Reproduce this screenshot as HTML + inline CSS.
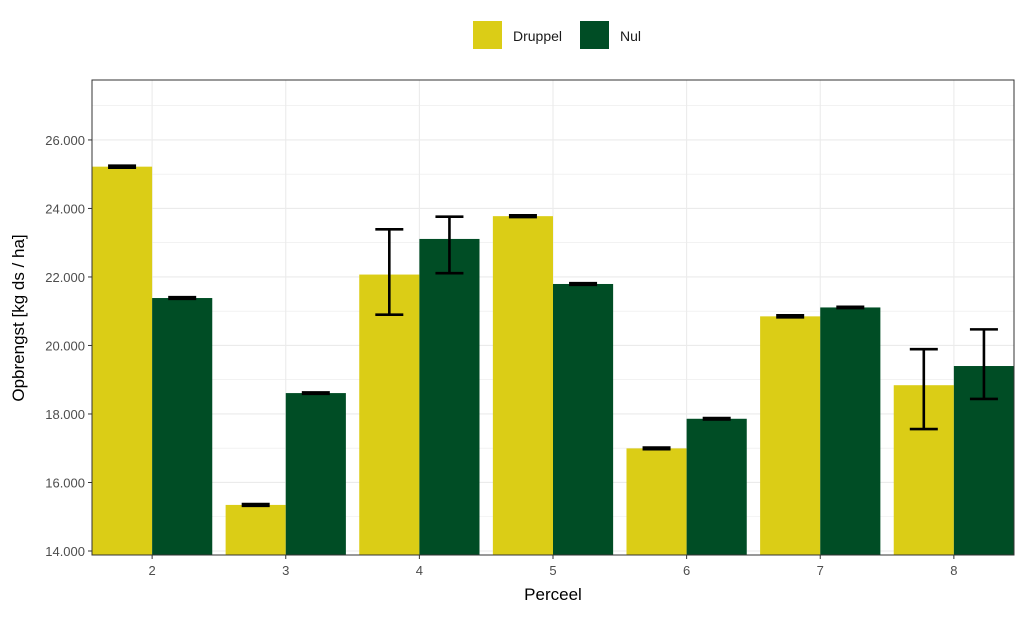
<!DOCTYPE html>
<html><head><meta charset="utf-8"><style>
body{margin:0;background:#fff;font-family:"Liberation Sans",Arial,sans-serif}
</style></head><body>
<svg id="chart" width="1024" height="614" xmlns="http://www.w3.org/2000/svg" font-family="Liberation Sans, Arial, sans-serif">
<g id="grid"></g><g id="bars"></g><g id="errs"></g><g id="axes"></g>
<g>
<rect x="473" y="21" width="29" height="28" fill="#dbcd16"/>
<text x="513" y="41" font-size="14" fill="#1a1a1a">Druppel</text>
<rect x="580" y="21" width="29" height="28" fill="#004d25"/>
<text x="620" y="41" font-size="14" fill="#1a1a1a">Nul</text>
</g>
<text x="553" y="600" font-size="17" text-anchor="middle" fill="#000">Perceel</text>
<text transform="translate(24,318) rotate(-90)" font-size="17" text-anchor="middle" fill="#000">Opbrengst [kg ds / ha]</text>
</svg>
<script>
const categories=["2","3","4","5","6","7","8"];
const druppel=[25220,15345,22070,23775,16995,20850,18840];
const nul=[21385,18610,23110,21795,17860,21110,19400];
const druppelLo=[25190,15320,20900,23750,16970,20820,17560];
const druppelHi=[25250,15370,23390,23800,17020,20880,19890];
const nulLo=[21360,18590,22110,21770,17840,21090,18440];
const nulHi=[21410,18630,23760,21820,17880,21130,20470];
const yTicks=[14000,16000,18000,20000,22000,24000,26000];
const yTickLabels=["14.000","16.000","18.000","20.000","22.000","24.000","26.000"];
const L=92,R=1014,T=80,B=555,yMin=13883,yMax=27750;
const NS="http://www.w3.org/2000/svg";
const y=v=>B-(v-yMin)/(yMax-yMin)*(B-T);
const step=(R-L)/(categories.length-1+0.9);
const x=i=>L+step*(i+0.45);
const bw=step*0.45;
function mk(p,tag,a){const e=document.createElementNS(NS,tag);for(const k in a)e.setAttribute(k,a[k]);document.getElementById(p).appendChild(e);return e;}
mk("grid","rect",{x:L,y:T,width:R-L,height:B-T,fill:"#fff"});
for(let v=13000;v<=27750;v+=1000){if(v<yMin)continue;const g=mk("grid","line",{x1:L,x2:R,y1:y(v),y2:y(v),stroke:"#ebebeb","stroke-width":v%2000===0?1.1:0.6});

}
categories.forEach((c,i)=>{const g=mk("grid","line",{x1:x(i),x2:x(i),y1:T,y2:B,stroke:"#ebebeb","stroke-width":1.1});

});
categories.forEach((c,i)=>{
 const b1=mk("bars","rect",{x:x(i)-bw,y:y(druppel[i]),width:bw,height:B-y(druppel[i]),fill:"#dbcd16"});
 
 
 const b2=mk("bars","rect",{x:x(i),y:y(nul[i]),width:bw,height:B-y(nul[i]),fill:"#004d25"});
 
 
 [[x(i)-bw/2,druppelLo[i],druppelHi[i],'druppel'],[x(i)+bw/2,nulLo[i],nulHi[i],'nul']].forEach(([cx,lo,hi,s])=>{
  const d=`M${cx-14},${y(hi)}H${cx+14}M${cx},${y(hi)}V${y(lo)}M${cx-14},${y(lo)}H${cx+14}`;
  const e=mk("errs","path",{d:d,stroke:"#000","stroke-width":2.6,fill:"none"});
  
  
 });
 const t=mk("axes","text",{x:x(i),y:575,"font-size":13,"text-anchor":"middle",fill:"#4d4d4d"});t.textContent=c;
 
 
 mk("axes","line",{x1:x(i),x2:x(i),y1:B,y2:B+4,stroke:"#333"});
});
yTicks.forEach((v,i)=>{const t=mk("axes","text",{x:85,y:y(v)+5,"font-size":13,"text-anchor":"end",fill:"#4d4d4d"});t.textContent=yTickLabels[i];


mk("axes","line",{x1:L-4,x2:L,y1:y(v),y2:y(v),stroke:"#333"});});
const f=mk("axes","rect",{x:L,y:T,width:R-L,height:B-T,fill:"none",stroke:"#333","stroke-width":1});


</script>
</body></html>
